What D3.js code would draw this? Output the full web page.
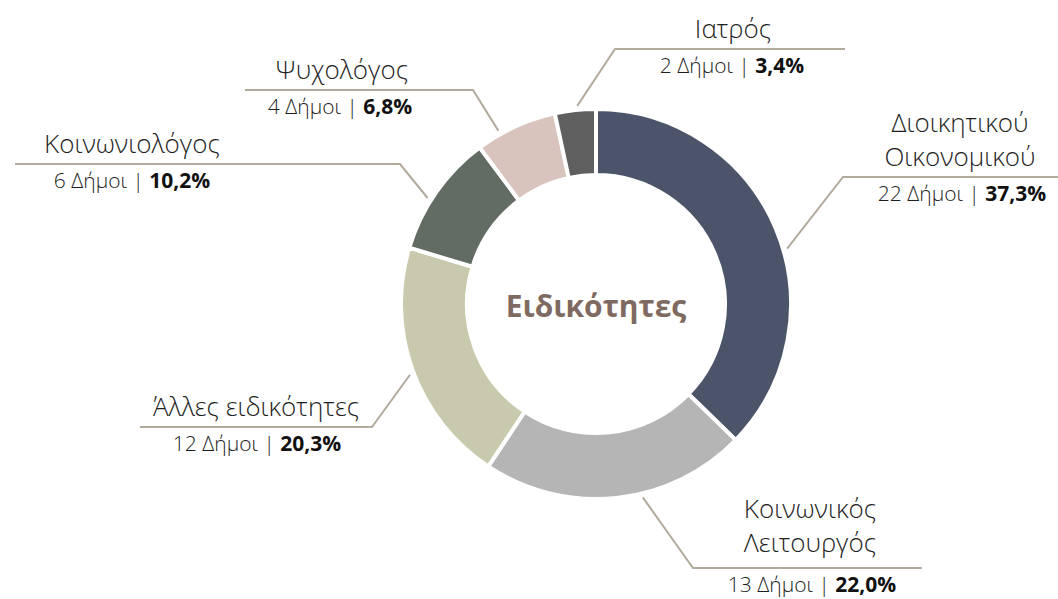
<!DOCTYPE html>
<html>
<head>
<meta charset="utf-8">
<script src="https://cdn.jsdelivr.net/npm/d3@7"></script>
<style>
  body { margin: 0; background: #fff; }
  svg { display: block; font-family: "Open Sans", "Noto Sans", sans-serif; }
  .title { font-size: 26px; font-weight: 300; fill: #1e1e1e; }
  .sub { font-size: 21px; font-weight: 300; fill: #1e1e1e; }
  .sub tspan.pct { font-weight: 700; fill: #111; }
  .leader { fill: none; stroke: #b3aa9e; stroke-width: 2; }
</style>
</head>
<body>
<div id="chart"></div>
<script>
var w = 1058, h = 599;

// data, clockwise from 12 o'clock
var categories = ["Διοικητικού Οικονομικού", "Κοινωνικός Λειτουργός", "Άλλες ειδικότητες",
                  "Κοινωνιολόγος", "Ψυχολόγος", "Ιατρός"];
var titleLines = [["Διοικητικού", "Οικονομικού"], ["Κοινωνικός", "Λειτουργός"], ["Άλλες ειδικότητες"],
                  ["Κοινωνιολόγος"], ["Ψυχολόγος"], ["Ιατρός"]];
var counts = [22, 13, 12, 6, 4, 2];
var pctLabels = ["37,3%", "22,0%", "20,3%", "10,2%", "6,8%", "3,4%"];
var colors = ["#4b5468", "#b5b5b5", "#c9c9ad", "#636c62", "#d9c4bd", "#5f5f5f"];
var centerTitle = "Ειδικότητες";

// label placement (annotation layout, not data)
var labelLayout = [
  { nudge: 6.7,  elbowX: 843, lineY: 177, endX: 1058, titleX: 960, subX: 962, dy: 0 },
  { nudge: -7.5, elbowX: 693, lineY: 568, endX: 922,  titleX: 810, subX: 812, dy: -5 },
  { nudge: -1,   elbowX: 372, lineY: 427, endX: 140,  titleX: 256, subX: 257, dy: 0 },
  { nudge: -2.9, elbowX: 400, lineY: 164, endX: 15,   titleX: 132, subX: 132, dy: 0 },
  { nudge: -5,   elbowX: 473, lineY: 90,  endX: 245,  titleX: 342, subX: 340, dy: 0 },
  { nudge: 0.7,  elbowX: 615, lineY: 49,  endX: 845,  titleX: 733, subX: 732, dy: 0 }
];

var cx = 596, cy = 304;
var rOuter = 195, rInner = 129;

var svg = d3.select("#chart")
    .append("svg")
    .attr("width", w)
    .attr("height", h);

var pie = d3.pie()
    .sort(null)
    .value(function(d) { return d; });

var arc = d3.arc()
    .innerRadius(rInner)
    .outerRadius(rOuter);

var arcs = pie(counts);

var g = svg.append("g")
    .attr("transform", "translate(" + cx + "," + cy + ")");

g.selectAll(".slice")
    .data(arcs)
    .enter()
    .append("path")
    .attr("class", "slice")
    .attr("d", arc)
    .attr("fill", function(d, i) { return colors[i]; })
    .attr("stroke", "#fff")
    .attr("stroke-width", 4)
    .attr("stroke-linejoin", "miter");

g.append("text")
    .attr("x", 0)
    .attr("y", 13)
    .attr("text-anchor", "middle")
    .style("font-size", "30px")
    .style("font-weight", "700")
    .style("fill", "#7f6a62")
    .text(centerTitle);

// leader lines
var rLead = 199;
function leaderStart(d, i) {
    var a = (d.startAngle + d.endAngle) / 2 + labelLayout[i].nudge * Math.PI / 180;
    return [cx + rLead * Math.sin(a), cy - rLead * Math.cos(a)];
}

svg.selectAll(".leader")
    .data(arcs)
    .enter()
    .append("path")
    .attr("class", "leader")
    .attr("d", function(d, i) {
        var L = labelLayout[i];
        var p = leaderStart(d, i);
        return d3.line()([p, [L.elbowX, L.lineY], [L.endX, L.lineY]]);
    });

// labels
var lab = svg.selectAll(".label")
    .data(arcs)
    .enter()
    .append("g")
    .attr("class", "label");

lab.each(function(d, i) {
    var L = labelLayout[i];
    var sel = d3.select(this);
    var lines = titleLines[i];
    lines.forEach(function(t, k) {
        sel.append("text")
            .attr("class", "title")
            .attr("x", L.titleX)
            .attr("y", L.lineY - 11 + L.dy - (lines.length - 1 - k) * 34)
            .attr("text-anchor", "middle")
            .text(t);
    });
    var s = sel.append("text")
        .attr("class", "sub")
        .attr("x", L.subX)
        .attr("y", L.lineY + 24)
        .attr("text-anchor", "middle");
    s.append("tspan").text(counts[i] + " Δήμοι | ");
    s.append("tspan").attr("class", "pct").text(pctLabels[i]);
});
</script>
</body>
</html>
